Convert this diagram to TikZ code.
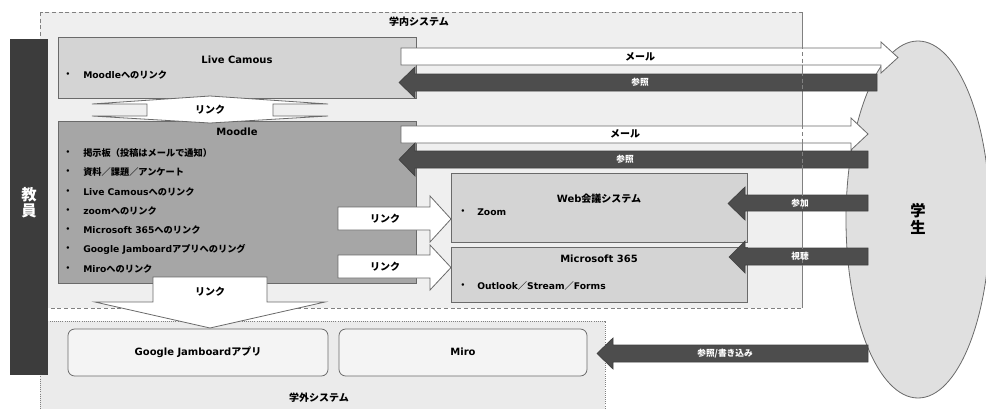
\documentclass[tikz,border=0pt]{standalone}
\usepackage{fontspec}
\setmainfont{DejaVu Sans}
\newfontfamily\jpf{Noto Sans CJK JP}
\newcommand\J[1]{{\jpf #1}}
\definecolor{inbg}{HTML}{EFEFEF}
\definecolor{boxl}{HTML}{D4D4D4}
\definecolor{boxm}{HTML}{A6A6A6}
\definecolor{dk}{HTML}{4D4D4D}
\definecolor{barc}{HTML}{3C3C3C}
\definecolor{edgec}{HTML}{6A6A6A}
\definecolor{ellc}{HTML}{E0E0E0}
\definecolor{outbg}{HTML}{EBEBEB}
\definecolor{rboxc}{HTML}{F4F4F4}
\newcommand\blockarrow[8]{\path[#1] (#2,#5) -- (#3,#5) -- (#3,#7) -- (#4,{(#7+#8)/2}) -- (#3,#8) -- (#3,#6) -- (#2,#6) -- cycle;}
\tikzset{
  insys/.style={draw=gray, dash pattern=on 3pt off 2pt, line width=0.6pt},
  panel/.style={draw=edgec, line width=0.6pt},
  warr/.style={draw=edgec, fill=white, line width=0.6pt, line join=miter},
  darr/.style={draw=black!75, fill=dk, line width=0.5pt},
  ttl/.style={font=\bfseries\fontsize{7.5}{8.5}\selectfont, inner sep=0},
  itm/.style={font=\bfseries\fontsize{6.9}{7.5}\selectfont, anchor=west, inner sep=0},
  wl/.style={font=\bfseries\fontsize{6.5}{7.5}\selectfont, text=white, inner sep=0},
  bl/.style={font=\bfseries\fontsize{7.5}{8.5}\selectfont, inner sep=0},
}
\begin{document}
\begin{tikzpicture}[x=0.75pt,y=-0.75pt]
\useasboundingbox (0,0) rectangle (986,408);
% outer systems
\path[fill=outbg, draw=gray, densely dotted, line width=0.6pt] (40,321) rectangle (605,414);
\path[fill=inbg, insys] (40,12) rectangle (802,308);
% student ellipse
\path[fill=ellc, draw=edgec, line width=0.6pt] (918,219.5) ellipse [x radius=72, y radius=178.5];
% teacher bar
\path[fill=barc] (10,39) rectangle (48,375);
% panels
\path[panel, fill=boxl] (58,37) rectangle (416,98);
\path[panel, fill=boxm] (58,121) rectangle (416,283);
\path[panel, fill=boxl] (451,173) rectangle (747,242);
\path[panel, fill=boxl] (451,247) rectangle (747,302);
\path[panel, fill=rboxc, rounded corners=5pt] (68,329) rectangle (328,376);
\path[panel, fill=rboxc, rounded corners=5pt] (339,329) rectangle (587,376);
% link arrows
\path[warr] (210,96) -- (328,104) -- (273,104) -- (273,116) -- (328,116) -- (210,123) -- (92,116) -- (147,116) -- (147,104) -- (92,104) -- cycle;
\path[warr] (153,277) -- (267,277) -- (267,302) -- (325,302) -- (210,328) -- (95,302) -- (153,302) -- cycle;
\blockarrow{warr}{338}{430}{451}{207}{230}{196}{242}
\blockarrow{warr}{338}{430}{451}{255}{278}{245}{290}
% mail / reference arrows
\blockarrow{warr}{401}{881}{898}{48}{65}{42}{73}
\blockarrow{darr}{877}{415}{399}{74}{91}{67}{98}
\blockarrow{warr}{401}{851}{868}{126}{143}{118}{150}
\blockarrow{darr}{868}{415}{399}{151}{168}{143}{176}
\blockarrow{darr}{868}{745}{728}{195}{211}{187}{220}
\blockarrow{darr}{868}{745}{729}{248}{265}{241}{273}
\blockarrow{darr}{868}{613}{597}{345}{362}{338}{369}
% right dashed edge over arrows
\draw[insys] (802,12) -- (802,308);
% texts
\node[ttl] (tin) at (419,22) {\J{学内システム}};
\node[ttl] (tout) at (319,398) {\J{学外システム}};
\node[font=\bfseries\fontsize{11.5}{12}\selectfont, text=white, align=center, inner sep=0] (tea) at (29,203) {\J{教}\\\J{員}};
\node[font=\bfseries\fontsize{11.5}{12.8}\selectfont, align=center, inner sep=0] (stu) at (918,219) {\J{学}\\\J{生}};
\node[ttl] (lct) at (237,60) {Live Camous};
\node[itm] (lcb) at (63,75) {\J{・}};
\node[itm] (lci) at (83,75) {Moodle\J{へのリンク}};
\node[ttl] (mdt) at (237,132) {Moodle};
\foreach \i/\yy/\t in {1/153/{\J{掲示板（投稿はメールで通知）}},
                       2/172/{\J{資料／課題／アンケート}},
                       3/192/{Live Camous\J{へのリンク}},
                       4/211/{zoom\J{へのリンク}},
                       5/230/{Microsoft 365\J{へのリンク}},
                       6/249/{Google Jamboard\J{アプリへのリング}},
                       7/269/{Miro\J{へのリンク}}}{
  \node[itm] (mb\i) at (63,\yy) {\J{・}};
  \node[itm] (mi\i) at (83,\yy) {\t};
}
\node[ttl] (wct) at (599,199) {Web\J{会議システム}};
\node[itm] (wcb) at (458,212) {\J{・}};
\node[itm] (wci) at (477,212) {Zoom};
\node[ttl] (mst) at (599,259) {Microsoft 365};
\node[itm] (msb) at (458,286) {\J{・}};
\node[itm] (msi) at (477,286) {Outlook\J{／}Stream\J{／}Forms};
\node[ttl] (gjt) at (198,352) {Google Jamboard\J{アプリ}};
\node[ttl] (mrt) at (463,352) {Miro};
% arrow labels
\node[bl] (l1) at (640,57) {\J{メール}};
\node[wl] (l2) at (640,82.5) {\J{参照}};
\node[bl] (l3) at (625,134) {\J{メール}};
\node[wl] (l4) at (625,159.5) {\J{参照}};
\node[wl] (l5) at (800,203) {\J{参加}};
\node[wl] (l6) at (800,256.5) {\J{視聴}};
\node[wl] (l7) at (725,353.5) {\J{参照/書き込み}};
\node[bl] (k1) at (210,110) {\J{リンク}};
\node[bl] (k2) at (385,218.5) {\J{リンク}};
\node[bl] (k3) at (385,266.5) {\J{リンク}};
\node[bl] (k4) at (210,292) {\J{リンク}};
\end{tikzpicture}
\end{document}
